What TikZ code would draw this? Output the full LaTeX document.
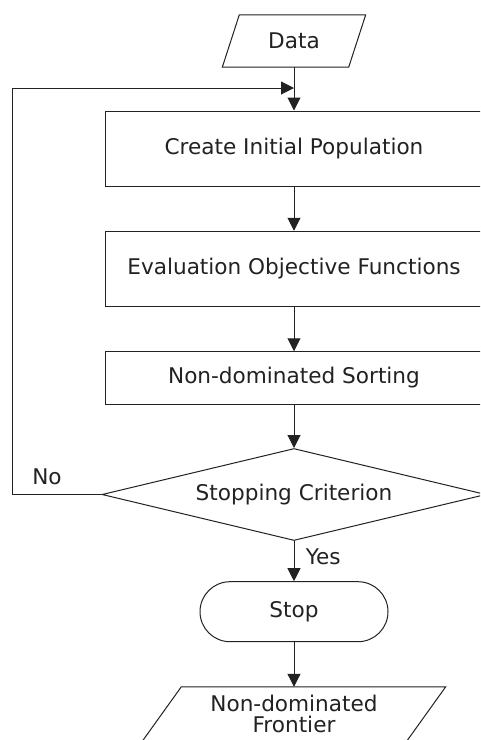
\documentclass[tikz,border=0pt]{standalone}
\usepackage{fontspec}
\setmainfont{DejaVu Sans}
\usetikzlibrary{arrows.meta,shapes.geometric}

\definecolor{ink}{HTML}{222222}

\tikzset{
  line/.style={draw=ink, line width=1pt},
  flow/.style={line, -{Triangle[length=13pt,width=13pt]}},
  txt/.style={font=\fontsize{21.6}{27}\selectfont, text=ink},
  procbox/.style={line, txt, rectangle, minimum width=378pt, inner sep=0pt},
  decision/.style={line, txt, diamond, aspect=4.16, minimum width=384pt, minimum height=92pt, inner sep=0pt},
  terminal/.style={line, txt, rectangle, rounded corners=30pt, minimum width=188pt, minimum height=60pt},
  iotext/.style={txt, rectangle, inner sep=0pt, align=center},
}

\begin{document}
\begin{tikzpicture}[x=1pt, y=-1pt]
  \useasboundingbox (0,0) rectangle (480,740);
  \clip (0,0) rectangle (480,740);
  \fill[white] (0,0) rectangle (480,740);

  % input data (parallelogram outline drawn around a plain node)
  \node[iotext, minimum width=126pt, minimum height=52pt] (data) at (294,41) {Data};
  \draw[line] ([xshift=8.5pt]data.north west) -- ([xshift=8.5pt]data.north east)
              -- ([xshift=-8.5pt]data.south east) -- ([xshift=-8.5pt]data.south west) -- cycle;

  % process steps
  \node[procbox, minimum height=75pt] (init) at (294,148.5) {Create Initial Population};
  \node[procbox, minimum height=75.5pt] (eval) at (294,269) {Evaluation Objective Functions};
  \node[procbox, minimum height=52.5pt] (sort) at (294,378) {Non-dominated Sorting};

  % decision
  \node[decision] (crit) at (294,494.5) {Stopping Criterion};

  % terminal
  \node[terminal] (stop) at (294,611.7) {Stop};

  % output (parallelogram outline drawn around a plain node)
  \node[iotext, font=\fontsize{21.6}{21}\selectfont, minimum width=264pt, minimum height=54pt] (front) at (294,714) {Non-dominated\\Frontier};
  \draw[line] ([xshift=19.5pt]front.north west) -- ([xshift=19.5pt]front.north east)
              -- ([xshift=-19.5pt]front.south east) -- ([xshift=-19.5pt]front.south west) -- cycle;

  % loop-back points
  \coordinate (join) at (294,88);
  \coordinate (loop) at (12,88);

  % connectors
  \draw[flow] (data.south) -- (init.north);
  \draw[flow] (init.south) -- (eval.north);
  \draw[flow] (eval.south) -- (sort.north);
  \draw[flow] (sort.south) -- (crit.north);
  \draw[flow] (crit.south) -- node[txt, right=8pt, pos=0.4] (yes) {Yes} (stop.north);
  \draw[flow] (stop.south) -- (front.north);
  \draw[flow] (crit.west) -| (loop) -- (join);
  \node[txt] (no) at (47,477) {No};
\end{tikzpicture}
\end{document}
